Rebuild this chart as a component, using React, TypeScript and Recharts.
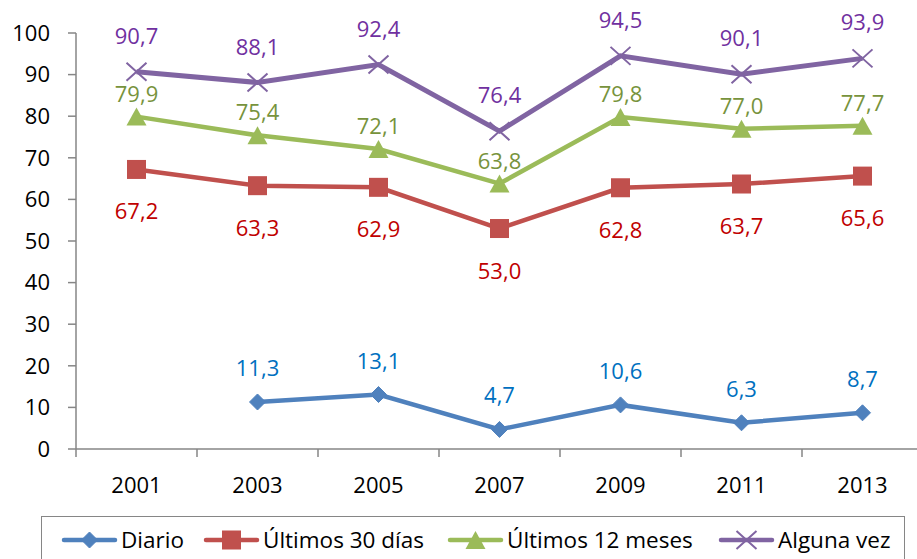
import React from "react";
import { LineChart, Line, XAxis, YAxis, Legend } from "recharts";

const years = [2001, 2003, 2005, 2007, 2009, 2011, 2013];
const diario: (number | null)[] = [null, 11.3, 13.1, 4.7, 10.6, 6.3, 8.7];
const ultimos30 = [67.2, 63.3, 62.9, 53.0, 62.8, 63.7, 65.6];
const ultimos12 = [79.9, 75.4, 72.1, 63.8, 79.8, 77.0, 77.7];
const algunaVez = [90.7, 88.1, 92.4, 76.4, 94.5, 90.1, 93.9];
const xTicks = [2000, 2001, 2002, 2003, 2004, 2005, 2006, 2007, 2008, 2009, 2010, 2011, 2012, 2013, 2014];
const yTicks = [0, 10, 20, 30, 40, 50, 60, 70, 80, 90, 100];

const data = years.map((y, i) => ({
  year: y,
  diario: diario[i],
  u30: ultimos30[i],
  u12: ultimos12[i],
  alguna: algunaVez[i],
}));

const FONT = "'Open Sans', sans-serif";
const AXIS = "#868686";
const FS = 22;

const C = {
  blue: "#4F81BD",
  red: "#C0504D",
  green: "#9BBB59",
  purple: "#8064A2",
};

const fmt = (v: any) => (v == null ? "" : Number(v).toFixed(1).replace(".", ","));

const Diamond = ({ cx, cy, color, r = 8 }: any) =>
  cx == null || cy == null ? null : (
    <path d={`M${cx},${cy - r} L${cx + r},${cy} L${cx},${cy + r} L${cx - r},${cy} Z`} fill={color} stroke={color} />
  );
const Square = ({ cx, cy, color, s = 19 }: any) =>
  cx == null || cy == null ? null : (
    <rect x={cx - s / 2} y={cy - s / 2} width={s} height={s} fill={color} />
  );
const Triangle = ({ cx, cy, color, w = 20, h = 18 }: any) =>
  cx == null || cy == null ? null : (
    <path d={`M${cx},${cy - h / 2} L${cx + w / 2},${cy + h / 2} L${cx - w / 2},${cy + h / 2} Z`} fill={color} />
  );
const Cross = ({ cx, cy, color, w = 10, h = 9 }: any) =>
  cx == null || cy == null ? null : (
    <path d={`M${cx - w},${cy - h} L${cx + w},${cy + h} M${cx - w},${cy + h} L${cx + w},${cy - h}`} stroke={color} strokeWidth={2} fill="none" />
  );

const makeLabel = (color: string, dy: number) => (props: any) => {
  const { x, y, value } = props;
  if (value == null || x == null || y == null) return null;
  return (
    <text x={x} y={y + dy} textAnchor="middle" dominantBaseline="central" fill={color} fontSize={FS} fontFamily={FONT}>
      {fmt(value)}
    </text>
  );
};

const XTick = (props: any) => {
  const { x, y, payload } = props;
  const v = payload.value;
  if (v % 2 === 0) {
    return <line x1={x} x2={x} y1={y} y2={y + 8} stroke={AXIS} strokeWidth={1.5} />;
  }
  return (
    <text x={x} y={y + 35} textAnchor="middle" dominantBaseline="central" fontSize={FS} fill="#000" fontFamily={FONT}>
      {v}
    </text>
  );
};

const legendItems = [
  { name: "Diario", color: C.blue, kind: "diamond", left: 19 },
  { name: "Últimos 30 días", color: C.red, kind: "square", left: 161 },
  { name: "Últimos 12 meses", color: C.green, kind: "triangle", left: 405 },
  { name: "Alguna vez", color: C.purple, kind: "cross", left: 676 },
];

const LegendIcon = ({ color, kind }: any) => (
  <svg width={57} height={24} style={{ display: "block" }}>
    <line x1={3} x2={54} y1={12} y2={12} stroke={color} strokeWidth={4.5} strokeLinecap="round" />
    {kind === "diamond" && <Diamond cx={28.5} cy={12} color={color} />}
    {kind === "square" && <Square cx={28.5} cy={12} color={color} />}
    {kind === "triangle" && <Triangle cx={28.5} cy={12} color={color} />}
    {kind === "cross" && <Cross cx={28.5} cy={12} color={color} />}
  </svg>
);

const LegendContent = () => (
  <div
    style={{
      position: "relative",
      boxSizing: "border-box",
      width: 864,
      height: 48,
      border: `1px solid ${AXIS}`,
      fontFamily: FONT,
      fontSize: 22.5,
      color: "#000",
    }}
  >
    {legendItems.map((it) => (
      <div
        key={it.name}
        style={{ position: "absolute", left: it.left, top: 11, display: "flex", alignItems: "center", lineHeight: "24px", whiteSpace: "nowrap" }}
      >
        <LegendIcon color={it.color} kind={it.kind} />
        <span style={{ marginLeft: 3 }}>{it.name}</span>
      </div>
    ))}
  </div>
);

export default function App() {
  return (
    <div style={{ position: "absolute", left: 0, top: 0, width: 917, height: 559, overflow: "hidden", background: "#fff" }}>
      <LineChart width={924} height={559} data={data} margin={{ top: 33, right: 1, bottom: 0, left: 0 }} style={{ fontFamily: FONT }}>
        <XAxis
          dataKey="year"
          type="number"
          domain={[2000, 2014]}
          ticks={xTicks}
          interval={0}
          tick={<XTick />}
          tickLine={false}
          tickSize={0}
          tickMargin={0}
          axisLine={{ stroke: AXIS, strokeWidth: 1.5 }}
          height={62}
        />
        <YAxis
          domain={[0, 100]}
          ticks={yTicks}
          interval={0}
          width={76}
          tickSize={8}
          tickMargin={18}
          tickLine={{ stroke: AXIS, strokeWidth: 1.5 }}
          axisLine={{ stroke: AXIS, strokeWidth: 1.5 }}
          tick={{ fill: "#000", fontSize: FS, fontFamily: FONT }}
        />
        <Legend
          verticalAlign="bottom"
          content={<LegendContent />}
          wrapperStyle={{ left: 41, top: 516, bottom: "auto", width: 864, height: 48 }}
        />
        <Line
          dataKey="diario"
          name="Diario"
          stroke={C.blue}
          strokeWidth={4.5}
          isAnimationActive={false}
          dot={(p: any) => <Diamond key={`d${p.index}`} cx={p.cx} cy={p.cy} color={C.blue} />}
          activeDot={false}
          label={makeLabel("#0070C0", -35)}
        />
        <Line
          dataKey="u30"
          name="Últimos 30 días"
          stroke={C.red}
          strokeWidth={4.5}
          isAnimationActive={false}
          dot={(p: any) => <Square key={`s${p.index}`} cx={p.cx} cy={p.cy} color={C.red} />}
          activeDot={false}
          label={makeLabel("#C00000", 41)}
        />
        <Line
          dataKey="u12"
          name="Últimos 12 meses"
          stroke={C.green}
          strokeWidth={4.5}
          isAnimationActive={false}
          dot={(p: any) => <Triangle key={`t${p.index}`} cx={p.cx} cy={p.cy} color={C.green} />}
          activeDot={false}
          label={makeLabel("#77933C", -24)}
        />
        <Line
          dataKey="alguna"
          name="Alguna vez"
          stroke={C.purple}
          strokeWidth={5}
          isAnimationActive={false}
          dot={(p: any) => <Cross key={`c${p.index}`} cx={p.cx} cy={p.cy} color={C.purple} />}
          activeDot={false}
          label={makeLabel("#7030A0", -37)}
        />
      </LineChart>
    </div>
  );
}
